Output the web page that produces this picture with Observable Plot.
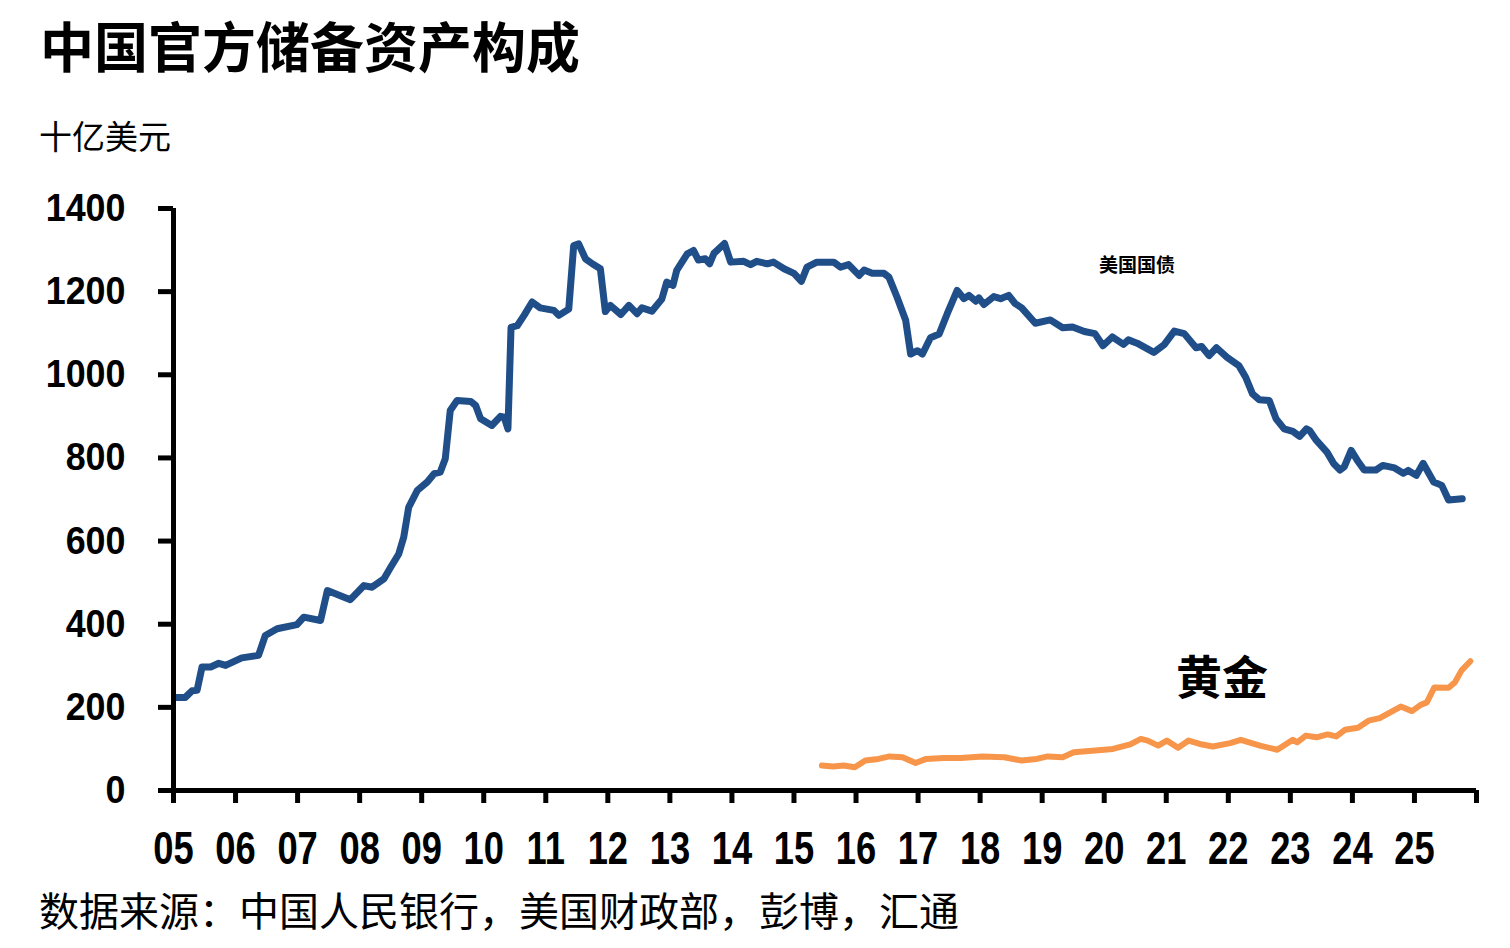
<!DOCTYPE html>
<html>
<head>
<meta charset="utf-8">
<script src="https://cdn.jsdelivr.net/npm/d3@7"></script>
<script src="https://cdn.jsdelivr.net/npm/@observablehq/plot@0.6"></script>
<style>
  html, body { margin: 0; padding: 0; background: #fff; }
  body { width: 1510px; height: 948px; position: relative; overflow: hidden; }
  .cjk { font-family: "Noto Sans CJK SC", "Noto Sans", sans-serif; color: #000; position: absolute; white-space: nowrap; }
  #title { left: 40px; top: 11px; font-size: 54px; font-weight: 700; line-height: 68px; }
  #subtitle { left: 39px; top: 114px; font-size: 33px; font-weight: 400; line-height: 42px; }
  #caption { left: 39px; top: 884px; font-size: 40px; font-weight: 400; line-height: 50px; }
  #chart { position: absolute; left: 0; top: 190px; }
</style>
</head>
<body>
<div id="title" class="cjk">中国官方储备资产构成</div>
<div id="subtitle" class="cjk">十亿美元</div>
<div id="chart"></div>
<div id="caption" class="cjk">数据来源：中国人民银行，美国财政部，彭博，汇通</div>
<script>
// ---- data (decimal year, billions USD) ----
const treasuryT = [2005.03,2005.19,2005.30,2005.38,2005.46,2005.60,2005.73,2005.84,2006.10,2006.37,2006.48,2006.67,2006.99,2007.10,2007.37,2007.48,2007.85,2008.07,2008.20,2008.39,2008.50,2008.63,2008.71,2008.79,2008.93,2009.09,2009.20,2009.30,2009.38,2009.46,2009.57,2009.79,2009.87,2009.95,2010.13,2010.27,2010.33,2010.39,2010.44,2010.54,2010.65,2010.78,2010.91,2011.13,2011.21,2011.37,2011.45,2011.53,2011.64,2011.75,2011.88,2011.96,2012.04,2012.21,2012.34,2012.47,2012.55,2012.71,2012.87,2012.95,2013.05,2013.11,2013.28,2013.38,2013.46,2013.57,2013.64,2013.71,2013.88,2013.98,2014.19,2014.30,2014.40,2014.57,2014.67,2014.84,2015.00,2015.12,2015.21,2015.37,2015.64,2015.75,2015.88,2016.05,2016.13,2016.26,2016.45,2016.53,2016.66,2016.80,2016.88,2016.99,2017.07,2017.20,2017.34,2017.47,2017.63,2017.74,2017.82,2017.93,2017.98,2018.06,2018.22,2018.33,2018.46,2018.56,2018.67,2018.89,2019.13,2019.33,2019.49,2019.68,2019.85,2019.98,2020.13,2020.31,2020.39,2020.53,2020.80,2020.97,2021.13,2021.29,2021.48,2021.57,2021.69,2021.81,2021.98,2022.17,2022.28,2022.39,2022.50,2022.66,2022.77,2022.90,2023.04,2023.15,2023.26,2023.31,2023.42,2023.59,2023.70,2023.80,2023.87,2023.98,2024.08,2024.19,2024.38,2024.49,2024.68,2024.82,2024.90,2025.03,2025.14,2025.31,2025.44,2025.55,2025.77];
const treasuryV = [224,224,240,241,297,297,306,301,319,325,373,389,399,417,409,481,459,493,489,509,537,569,609,681,722,742,762,766,798,914,938,936,926,894,878,900,898,870,1114,1118,1143,1175,1161,1155,1143,1158,1311,1315,1279,1267,1255,1152,1167,1145,1167,1147,1161,1153,1182,1223,1215,1251,1291,1299,1276,1279,1267,1292,1316,1271,1273,1265,1273,1267,1271,1255,1244,1225,1259,1271,1271,1259,1265,1239,1252,1244,1244,1235,1187,1131,1050,1058,1050,1089,1098,1147,1203,1183,1191,1177,1185,1169,1188,1183,1191,1172,1161,1124,1132,1113,1115,1104,1099,1070,1091,1073,1084,1076,1054,1073,1105,1099,1065,1068,1046,1065,1042,1022,994,954,940,938,894,870,864,852,870,866,842,814,786,771,779,818,794,771,771,782,776,763,770,758,787,742,734,699,702];

const goldT = [2015.45,2015.63,2015.80,2015.98,2016.15,2016.36,2016.54,2016.75,2016.96,2017.13,2017.41,2017.69,2018.04,2018.39,2018.67,2018.91,2019.09,2019.33,2019.51,2019.86,2020.14,2020.42,2020.59,2020.70,2020.87,2021.01,2021.19,2021.36,2021.54,2021.75,2022.03,2022.20,2022.51,2022.79,2023.04,2023.11,2023.25,2023.42,2023.60,2023.74,2023.88,2024.09,2024.26,2024.44,2024.61,2024.78,2024.96,2025.10,2025.20,2025.32,2025.55,2025.65,2025.76,2025.90];
const goldV = [60,58,60,56,72,76,82,80,66,76,78,78,82,80,72,76,82,80,92,96,100,111,124,120,108,120,103,120,112,106,114,122,108,98,122,116,132,128,135,130,146,151,168,174,188,202,191,206,212,248,247,260,289,311];

const xTickYears = d3.range(2005, 2027);
const xTickLabels = ["05","06","07","08","09","10","11","12","13","14","15","16","17","18","19","20","21","22","23","24","25",""];
const yTicks = [0, 200, 400, 600, 800, 1000, 1200, 1400];

const seriesNames = ["美国国债", "黄金"];
const seriesColors = ["#1f4e89", "#f7964a"];
const labelT = [2020.53, 2021.9];
const labelV = [1263, 268];

const treasury = treasuryT.map((t, i) => ({t, v: treasuryV[i]}));
const gold = goldT.map((t, i) => ({t, v: goldV[i]}));
const labels = seriesNames.map((name, i) => ({name, t: labelT[i], v: labelV[i]}));

const numFont = "'Liberation Sans', Arial, sans-serif";
const cjkFont = "'Noto Sans CJK SC', 'Noto Sans', sans-serif";

const chart = Plot.plot({
  width: 1510,
  height: 690,
  marginLeft: 173,
  marginRight: 34,
  marginTop: 18,
  marginBottom: 90,
  style: {background: "#fff", overflow: "visible"},
  x: {domain: [2005, 2026]},
  y: {domain: [0, 1400]},
  marks: [
    Plot.axisY({
      ticks: yTicks, tickSize: 15, tickPadding: 33, strokeWidth: 5, stroke: "#000",
      fontSize: 39, fontWeight: "bold", fontFamily: numFont, fill: "#000", label: null,
      tickFormat: d => String(d)
    }),
    Plot.axisX({
      ticks: xTickYears, tickSize: 13, tickPadding: 28, strokeWidth: 5, stroke: "#000",
      fontSize: 46, fontWeight: "bold", fontFamily: numFont, fill: "#000", label: null,
      tickFormat: d => xTickLabels[xTickYears.indexOf(d)]
    }),
    Plot.line(treasury, {x: "t", y: "v", stroke: seriesColors[0], strokeWidth: 7, strokeLinejoin: "round", strokeLinecap: "round"}),
    Plot.line(gold, {x: "t", y: "v", stroke: seriesColors[1], strokeWidth: 6, strokeLinejoin: "round", strokeLinecap: "round"}),
    Plot.ruleY([0], {x1: 2005, x2: 2026, stroke: "#000", strokeWidth: 5}),
    Plot.ruleX([2005], {y1: 0, y2: 1400, stroke: "#000", strokeWidth: 5}),
    Plot.text(labels.slice(0, 1), {x: "t", y: "v", text: "name", fontSize: 19, fontWeight: "bold", fontFamily: cjkFont, fill: "#000"}),
    Plot.text(labels.slice(1), {x: "t", y: "v", text: "name", fontSize: 46, fontWeight: "bold", fontFamily: cjkFont, fill: "#000"})
  ]
});
// condense the numeric tick labels horizontally (narrow bold face in the reference)
function condense(sel, k) {
  d3.select(chart).selectAll(sel).each(function() {
    const t = this.getAttribute("transform") || "";
    this.setAttribute("transform", t + ` scale(${k},1)`);
  });
}
condense("g[aria-label='x-axis tick label'] text", 0.79);
condense("g[aria-label='y-axis tick label'] text", 0.92);
document.getElementById("chart").appendChild(chart);
</script>
</body>
</html>
